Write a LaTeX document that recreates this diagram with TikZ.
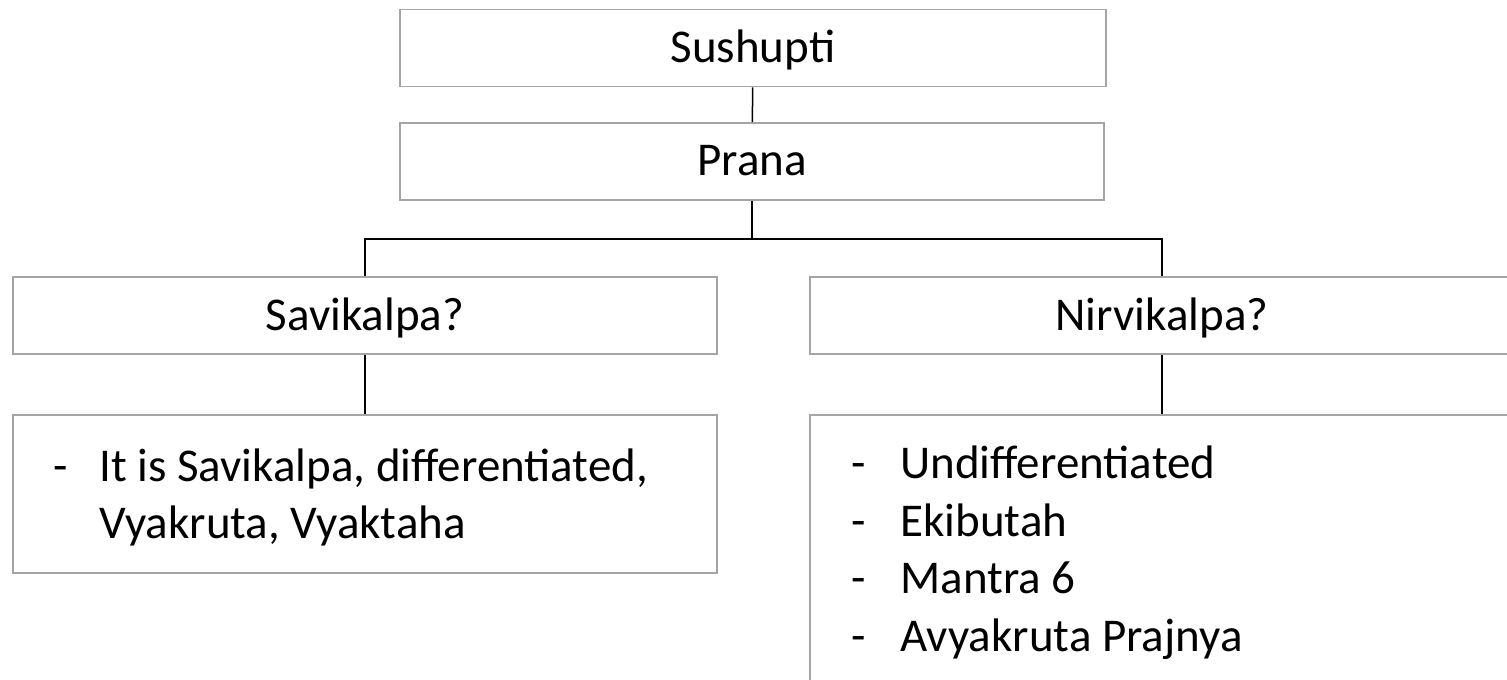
\documentclass[tikz,border=0pt]{standalone}
\usepackage{fontspec}
\setmainfont{Carlito}
\usepackage{tikz}

\definecolor{boxgray}{RGB}{165,165,165}

\tikzset{
    stagebox/.style={draw=boxgray, line width=0.8pt, minimum width=352pt,
        minimum height=38.5pt, inner sep=0pt, text height=17pt, text depth=2.5pt,
        font=\fontsize{23.5}{28}\selectfont},
    notebox/.style={draw=boxgray, line width=0.8pt, minimum width=352pt, inner sep=0pt},
    noteline/.style={anchor=base west, inner sep=0pt, font=\fontsize{23.5}{28}\selectfont},
    link/.style={line width=0.75pt},
}

\begin{document}
\begin{tikzpicture}[x=0.5pt, y=-0.5pt]
    %% Page
    \useasboundingbox (0,0) rectangle (1507,679);
    \clip (0,0) rectangle (1507,679);

    %% Boxes
    \node[stagebox, minimum width=353pt] (sushupti) at (753,48) {Sushupti};
    \node[stagebox] (prana) at (752,161.5) {Prana};
    \node[stagebox] (savikalpa) at (365,315.5) {Savikalpa?};
    \node[stagebox] (nirvikalpa) at (1162,315.5) {Nirvikalpa?};
    \node[notebox, minimum height=79pt] (savinotes) at (365,494) {};
    \node[notebox, minimum height=140pt] (nirvinotes) at (1162,555) {};

    %% Notes
    \node[noteline] (savidash) at (53,481) {-};
    \node[noteline] (savitxt1) at (99,481) {It is Savikalpa, differentiated,};
    \node[noteline] (savitxt2) at (99,538.5) {Vyakruta, Vyaktaha};

    \foreach \txt [count=\i] in {Undifferentiated, Ekibutah, Mantra 6, Avyakruta Prajnya} {
        \node[noteline] (nirvidash\i) at (851,421+57.5*\i) {-};
        \node[noteline] (nirvitxt\i) at (900,421+57.5*\i) {\txt};
    }

    %% Connectors
    \coordinate (split) at (752,239);
    \draw[link] (sushupti) -- (prana);
    \draw[link] (prana) -- (split);
    \draw[link] (split) -| (savikalpa);
    \draw[link] (split) -| (nirvikalpa);
    \draw[link] (savikalpa) -- (savinotes);
    \draw[link] (nirvikalpa) -- (nirvinotes);
\end{tikzpicture}
\end{document}
